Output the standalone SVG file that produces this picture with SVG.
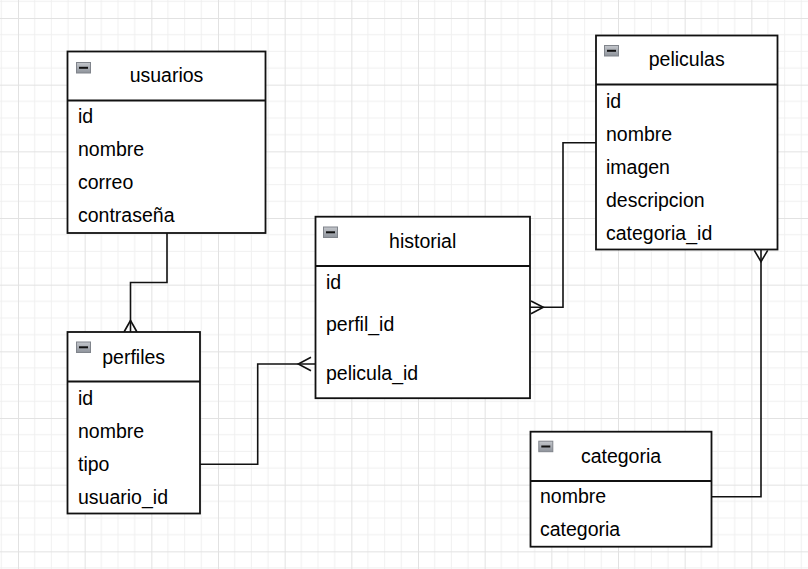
<svg xmlns="http://www.w3.org/2000/svg" width="808" height="569" viewBox="0 0 808 569">
<defs>
<pattern id="grid" x="18" y="18" width="66.667" height="66.667" patternUnits="userSpaceOnUse">
<path d="M16.667 0V66.667M33.333 0V66.667M50 0V66.667M0 16.667H66.667M0 33.333H66.667M0 50H66.667" stroke="#f0f0f0" stroke-width="1" fill="none"/>
<path d="M0.5 0V66.667M0 0.5H66.667" stroke="#e2e2e2" stroke-width="1" fill="none"/>
</pattern>
<linearGradient id="ig" x1="0" y1="0" x2="0" y2="1">
<stop offset="0" stop-color="#c4c7cc"/>
<stop offset="1" stop-color="#8e939b"/>
</linearGradient>
<g id="icon">
<rect x="0.5" y="0.5" width="14" height="10.5" fill="url(#ig)" stroke="#80848b" stroke-width="1"/>
<path d="M3 5.8H12" stroke="#111" stroke-width="2"/>
</g>
</defs>
<style>
.box{fill:#fff;stroke:#111;stroke-width:1.8}
.sep{stroke:#111;stroke-width:1.8}
.t{font-family:"Liberation Sans",Arial,sans-serif;font-size:19.5px;fill:#000}
.h{text-anchor:middle}
.c{fill:none;stroke:#111;stroke-width:1.6}
</style>
<rect width="808" height="569" fill="#fff"/>
<rect width="808" height="569" fill="url(#grid)"/>

<g id="connectors">
<path class="c" d="M167 233V282.5H130.5V332"/>
<path class="c" d="M124 332L130.5 320.5L137 332"/>
<path class="c" d="M200 464.3H257.7V364H315"/>
<path class="c" d="M311 357.3L298.3 364L311 370.7"/>
<path class="c" d="M596 142.7H563V307.3H530"/>
<path class="c" d="M531 301L543.3 307.3L531 313.7"/>
<path class="c" d="M711.7 496.7H761V250"/>
<path class="c" d="M754.3 250.3L761 261.7L767.7 250.3"/>
</g>

<g id="usuarios">
<rect class="box" x="67.5" y="51.5" width="198" height="181.5"/>
<line class="sep" x1="67.5" y1="100.5" x2="265.5" y2="100.5"/>
<use href="#icon" x="76" y="62"/>
<text class="t h" x="166.5" y="82.3">usuarios</text>
<text class="t" x="78" y="123.3">id</text>
<text class="t" x="78" y="156.3">nombre</text>
<text class="t" x="78" y="189.3">correo</text>
<text class="t" x="78" y="222.3">contraseña</text>
</g>

<g id="perfiles">
<rect class="box" x="67.5" y="332" width="132.5" height="181.5"/>
<line class="sep" x1="67.5" y1="381.5" x2="200" y2="381.5"/>
<use href="#icon" x="76" y="341.5"/>
<text class="t h" x="133.7" y="363.5">perfiles</text>
<text class="t" x="78" y="404.7">id</text>
<text class="t" x="78" y="437.7">nombre</text>
<text class="t" x="78" y="470.7">tipo</text>
<text class="t" x="78" y="503.7">usuario_id</text>
</g>

<g id="historial">
<rect class="box" x="315.5" y="216.7" width="214.5" height="181.5"/>
<line class="sep" x1="315.5" y1="266" x2="530" y2="266"/>
<use href="#icon" x="323" y="226.5"/>
<text class="t h" x="422.7" y="247.8">historial</text>
<text class="t" x="326" y="289">id</text>
<text class="t" x="326" y="331">perfil_id</text>
<text class="t" x="326" y="380">pelicula_id</text>
</g>

<g id="peliculas">
<rect class="box" x="596" y="35.5" width="181.5" height="214"/>
<line class="sep" x1="596" y1="84.5" x2="777.5" y2="84.5"/>
<use href="#icon" x="604" y="45"/>
<text class="t h" x="686.7" y="66.3">peliculas</text>
<text class="t" x="606" y="107.7">id</text>
<text class="t" x="606" y="140.7">nombre</text>
<text class="t" x="606" y="173.7">imagen</text>
<text class="t" x="606" y="206.7">descripcion</text>
<text class="t" x="606" y="239.7">categoria_id</text>
</g>

<g id="categoria">
<rect class="box" x="530.5" y="431.7" width="181" height="115"/>
<line class="sep" x1="530.5" y1="481" x2="711.5" y2="481"/>
<use href="#icon" x="538.3" y="440.7"/>
<text class="t h" x="621" y="463">categoria</text>
<text class="t" x="540" y="503.3">nombre</text>
<text class="t" x="540" y="536.3">categoria</text>
</g>
</svg>
